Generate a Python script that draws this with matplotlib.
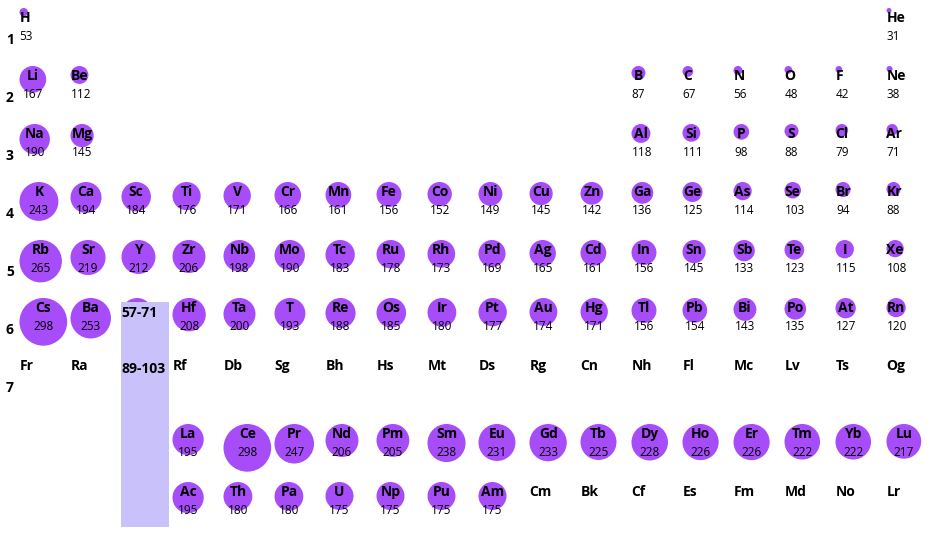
import matplotlib
matplotlib.use("Agg")
import matplotlib.pyplot as plt
from matplotlib.patches import Circle, Rectangle

# Atomic radius (pm) per period, with the group of each element
p1_sym = ["H", "He"]
p1_grp = [1, 18]
p1_val = [53, 31]

p2_sym = ["Li", "Be", "B", "C", "N", "O", "F", "Ne"]
p2_grp = [1, 2, 13, 14, 15, 16, 17, 18]
p2_val = [167, 112, 87, 67, 56, 48, 42, 38]

p3_sym = ["Na", "Mg", "Al", "Si", "P", "S", "Cl", "Ar"]
p3_grp = [1, 2, 13, 14, 15, 16, 17, 18]
p3_val = [190, 145, 118, 111, 98, 88, 79, 71]

p4_sym = ["K", "Ca", "Sc", "Ti", "V", "Cr", "Mn", "Fe", "Co",
          "Ni", "Cu", "Zn", "Ga", "Ge", "As", "Se", "Br", "Kr"]
p4_val = [243, 194, 184, 176, 171, 166, 161, 156, 152,
          149, 145, 142, 136, 125, 114, 103, 94, 88]

p5_sym = ["Rb", "Sr", "Y", "Zr", "Nb", "Mo", "Tc", "Ru", "Rh",
          "Pd", "Ag", "Cd", "In", "Sn", "Sb", "Te", "I", "Xe"]
p5_val = [265, 219, 212, 206, 198, 190, 183, 178, 173,
          169, 165, 161, 156, 145, 133, 123, 115, 108]

p6_sym = ["Cs", "Ba", "La", "Hf", "Ta", "T", "Re", "Os", "Ir",
          "Pt", "Au", "Hg", "Tl", "Pb", "Bi", "Po", "At", "Rn"]
p6_val = [298, 253, 195, 208, 200, 193, 188, 185, 180,
          177, 174, 171, 156, 154, 143, 135, 127, 120]

p7_sym = ["Fr", "Ra", "Ac", "Rf", "Db", "Sg", "Bh", "Hs", "Mt",
          "Ds", "Rg", "Cn", "Nh", "Fl", "Mc", "Lv", "Ts", "Og"]
p7_val = [None, None, 195, None, None, None, None, None, None,
          None, None, None, None, None, None, None, None, None]

lan_sym = ["La", "Ce", "Pr", "Nd", "Pm", "Sm", "Eu", "Gd",
           "Tb", "Dy", "Ho", "Er", "Tm", "Yb", "Lu"]
lan_val = [195, 298, 247, 206, 205, 238, 231, 233,
           225, 228, 226, 226, 222, 222, 217]

act_sym = ["Ac", "Th", "Pa", "U", "Np", "Pu", "Am", "Cm",
           "Bk", "Cf", "Es", "Fm", "Md", "No", "Lr"]
act_val = [195, 180, 180, 175, 175, 175, 175, None,
           None, None, None, None, None, None, None]

row_labels = ["1", "2", "3", "4", "5", "6", "7"]
range_labels = ["57-71", "89-103"]

BUBBLE = "#a64cf9"
BLOCK = "#c9c1fa"
FONT = "Open Sans"

# grid scale (pixels)
W, H = 943, 533
X0, Y0 = 19.5, 8
COL_W, ROW_H = 51, 58
R_SCALE = 0.08


def col_left(group):
    return X0 + (group - 1) * COL_W


def row_top(period):
    # periods 8 / 9 are the lanthanide / actinide rows, pushed down a bit
    return Y0 + (period - 1) * ROW_H + (10 if period > 7 else 0)


symbols, groups, periods, values = [], [], [], []


def add_row(sym, grp, val, period):
    symbols.extend(sym)
    groups.extend(grp)
    values.extend(val)
    periods.extend([period] * len(sym))


add_row(p1_sym, p1_grp, p1_val, 1)
add_row(p2_sym, p2_grp, p2_val, 2)
add_row(p3_sym, p3_grp, p3_val, 3)
add_row(p4_sym, list(range(1, 19)), p4_val, 4)
add_row(p5_sym, list(range(1, 19)), p5_val, 5)
add_row(p6_sym, list(range(1, 19)), p6_val, 6)
add_row(p7_sym, list(range(1, 19)), p7_val, 7)
add_row(lan_sym, list(range(4, 19)), lan_val, 8)
add_row(act_sym, list(range(4, 19)), act_val, 9)

fig = plt.figure(figsize=(W / 100, H / 100), dpi=100)
ax = fig.add_axes([0, 0, 1, 1])
ax.set_xlim(0, W)
ax.set_ylim(H, 0)
ax.axis("off")

texts = []
for sym, g, p, v in zip(symbols, groups, periods, values):
    left = col_left(g)
    top = row_top(p)
    r = v * R_SCALE if v is not None else 0
    cx = left + r
    if v is not None:
        ax.add_patch(Circle((cx, top + r), r, facecolor=BUBBLE,
                            edgecolor="none", zorder=1))
    if g == 3 and p in (6, 7):
        # this slot sits under the f-block placeholder, labels are hidden
        continue
    t = ax.text(cx, top + 10, sym, ha="center", va="center",
                fontsize=10, fontweight="bold", family=FONT, zorder=2)
    texts.append((t, left))
    if v is not None:
        t2 = ax.text(cx, top + 28.5, str(v), ha="center", va="center",
                     fontsize=8.5, family=FONT, zorder=2)
        texts.append((t2, left))

# labels never start left of their cell
fig.canvas.draw()
renderer = fig.canvas.get_renderer()
for t, left in texts:
    bb = t.get_window_extent(renderer)
    if bb.x0 < left:
        t.set_ha("left")
        t.set_x(left)

for i, lab in enumerate(row_labels):
    ax.text(6, row_top(i + 1) + 32, lab, ha="left", va="center",
            fontsize=10, fontweight="bold", family=FONT)

# block covering the f-block slot in group 3
bx = col_left(3) - 1
ax.add_patch(Rectangle((bx, row_top(6) + 4), COL_W - 3,
                       row_top(9) + 45 - row_top(6) - 4,
                       facecolor=BLOCK, edgecolor="none", zorder=3))
ax.text(bx + 1, row_top(6) + 15, range_labels[0], ha="left", va="center",
        fontsize=10, fontweight="bold", family=FONT, zorder=4)
ax.text(bx + 1, row_top(7) + 13, range_labels[1], ha="left", va="center",
        fontsize=10, fontweight="bold", family=FONT, zorder=4)

fig.savefig("out.png", dpi=100)
